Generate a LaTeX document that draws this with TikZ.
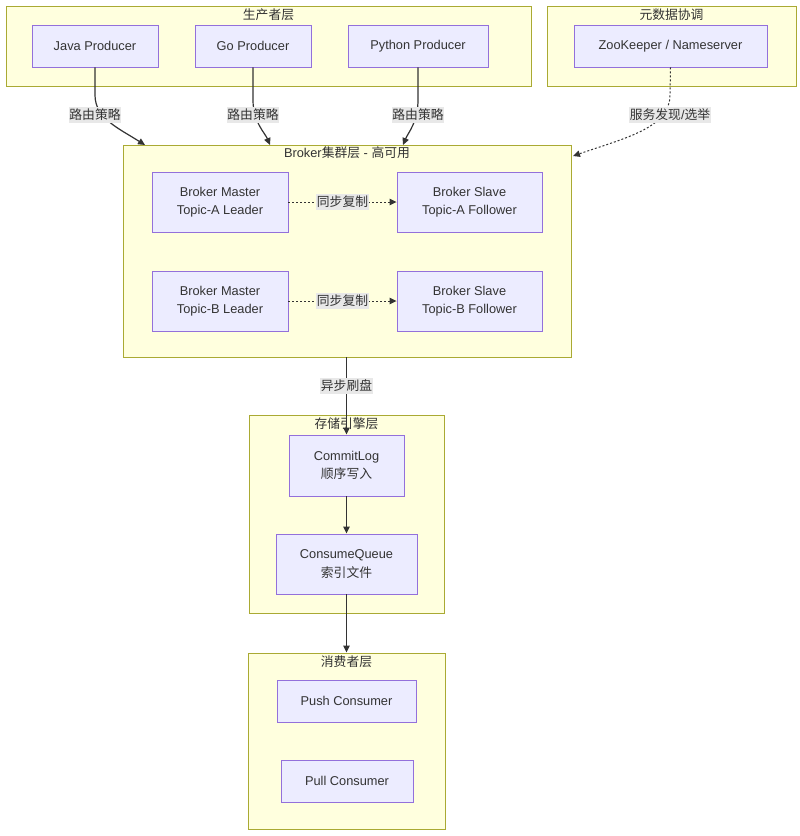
\documentclass[tikz,border=0pt]{standalone}
\usepackage{fontspec}
\setmainfont{Liberation Sans}
\newfontfamily\cjk{Noto Sans CJK SC}
\usetikzlibrary{arrows.meta}
\definecolor{clfill}{HTML}{FFFFDE}
\definecolor{cldraw}{HTML}{AAAA33}
\definecolor{ndfill}{HTML}{ECECFF}
\definecolor{nddraw}{HTML}{9370DB}
\definecolor{edgec}{HTML}{333333}
\definecolor{lblbg}{HTML}{E8E8E8}
\tikzset{
  base/.style={font=\fontsize{12.8}{18.5}\selectfont, text=edgec},
  cluster/.style={base, draw=cldraw, fill=clfill, line width=0.9pt, inner sep=0pt},
  box/.style={base, draw=nddraw, fill=ndfill, line width=0.9pt, inner sep=0pt, align=center},
  ctitle/.style={base, inner sep=0pt},
  elabel/.style={base, fill=lblbg, inner xsep=0.5pt, inner ysep=2pt},
  edge/.style={draw=edgec, line width=1.2pt, -{Triangle[length=7pt,width=6.5pt]}},
  dedge/.style={edge, line width=1pt, dash pattern=on 2pt off 2pt},
}
\begin{document}
\begin{tikzpicture}[x=1pt,y=-1pt]
\useasboundingbox[fill=white] (0,0) rectangle (800,836);
% clusters
\node[cluster, minimum width=525, minimum height=80] (prod) at (268.5,46) {};
\node[ctitle] (prodt) at (268.5,15) {\cjk 生产者层};
\node[cluster, minimum width=249, minimum height=80] (meta) at (671.5,46) {};
\node[ctitle] (metat) at (671.5,15) {\cjk 元数据协调};
\node[cluster, minimum width=448, minimum height=212] (broker) at (347,251) {};
\node[ctitle] (brokert) at (347,153) {Broker{\cjk 集群层} - {\cjk 高可用}};
\node[cluster, minimum width=195, minimum height=198] (store) at (346.5,514) {};
\node[ctitle] (storet) at (346.5,424) {\cjk 存储引擎层};
\node[cluster, minimum width=197, minimum height=176] (cons) at (346.5,741) {};
\node[ctitle] (const) at (346.5,662) {\cjk 消费者层};
% nodes
\node[box, minimum width=126, minimum height=42] (jp) at (95,46) {Java Producer};
\node[box, minimum width=116, minimum height=42] (gp) at (253,46) {Go Producer};
\node[box, minimum width=140, minimum height=42] (pp) at (418,46) {Python Producer};
\node[box, minimum width=193, minimum height=42] (zk) at (670.5,46) {ZooKeeper / Nameserver};
\node[box, minimum width=136, minimum height=60] (ma) at (220,202) {Broker Master\\Topic-A Leader};
\node[box, minimum width=145, minimum height=60] (sa) at (469.5,202) {Broker Slave\\Topic-A Follower};
\node[box, minimum width=136, minimum height=60] (mb) at (220,301) {Broker Master\\Topic-B Leader};
\node[box, minimum width=145, minimum height=60] (sb) at (469.5,301) {Broker Slave\\Topic-B Follower};
\node[box, minimum width=115, minimum height=61] (cl) at (346.5,465.5) {CommitLog\\{\cjk 顺序写入}};
\node[box, minimum width=141, minimum height=60] (cq) at (346.5,564) {ConsumeQueue\\{\cjk 索引文件}};
\node[box, minimum width=139, minimum height=42] (push) at (346.5,701) {Push Consumer};
\node[box, minimum width=132, minimum height=42] (pull) at (347,781) {Pull Consumer};
% end points on cluster borders
\coordinate (bj) at (145,145);
\coordinate (bg) at (270,145);
\coordinate (bp) at (403,145);
\coordinate (bz) at (573,156);
% edges
\draw[edge] (jp.south) -- (95,95) .. controls (95,118) and (118,128) .. (bj);
\draw[edge] (gp.south) -- (253,100) .. controls (253,122) and (265,133) .. (bg);
\draw[edge] (pp.south) -- (418,100) .. controls (418,122) and (408,133) .. (bp);
\draw[dedge] (zk.south) -- (670,95) .. controls (670,128) and (625,138) .. (bz);
\node[elabel] (lj) at (95,115) {\cjk 路由策略};
\node[elabel] (lg) at (253,115) {\cjk 路由策略};
\node[elabel] (lp) at (418,115) {\cjk 路由策略};
\node[elabel] (lz) at (670,115) {{\cjk 服务发现}/{\cjk 选举}};
\draw[dedge] (ma.east) -- (sa.west) node[elabel, midway] (la) {\cjk 同步复制};
\draw[dedge] (mb.east) -- (sb.west) node[elabel, midway] (lb) {\cjk 同步复制};
\draw[edge] (broker.south -| cl.north) -- (cl.north) node[elabel, pos=0.37] (lf) {\cjk 异步刷盘};
\draw[edge] (cl.south) -- (cq.north);
\draw[edge] (cq.south) -- (cq.south |- cons.north);
\end{tikzpicture}
\end{document}
